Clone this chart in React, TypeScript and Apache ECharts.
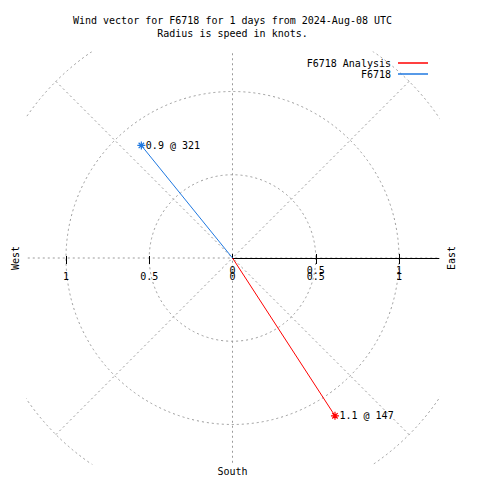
import React, { useEffect, useRef } from 'react';
import * as echarts from 'echarts';

// ---- data ----
const titleLines = ['Wind vector for F6718 for 1 days from 2024-Aug-08 UTC', 'Radius is speed in knots.'];
const seriesNames = ['F6718 Analysis', 'F6718'];
const seriesColors = ['#ff0000', '#1f78e0'];
const speeds = [1.13, 0.87]; // knots
const directions = [147, 321]; // degrees, compass
const ringStep = 0.5;
const ringMax = 1.5;
const spokeStep = 45;
const fullAxisTicks = [-1, -0.5, 0, 0.5, 1];
const fullAxisTickMarks = [-1, -0.5, 0.5, 1];
const radialAxisTicks = [0, 0.5, 1];
const compassWest = 'West';
const compassEast = 'East';
const compassSouth = 'South';

// ---- layout ----
const CX = 232.5;
const CY = 258;
const PX = 166.5; // pixels per knot
const HALF = 1.24; // visible half-extent in knots
const FONT = 'DejaVu Sans Mono';

const ASTERISK = 'path://M5,0L5,10M0,5L10,5M1.6,1.6L8.4,8.4M1.6,8.4L8.4,1.6';

export default function App() {
  const ref = useRef<HTMLDivElement>(null);

  useEffect(() => {
    if (!ref.current) return;
    const chart = echarts.init(ref.current, null, { renderer: 'svg' });

    const gl = CX - HALF * PX;
    const gt = CY - HALF * PX;
    const gs = 2 * HALF * PX;
    const gr = gl + gs;
    const gb = gt + gs;

    const gridLine = { color: '#9a9a9a', width: 1, type: [2, 3] as any };
    const labelFont = { fontFamily: FONT, fontSize: 10, color: '#000' };

    const legendBase = {
      right: 480 - 428,
      padding: 0,
      align: 'right',
      icon: 'rect',
      itemWidth: 30,
      itemHeight: 1.5,
      itemGap: 7,
      textStyle: { ...labelFont, lineHeight: 12, padding: [0, 2, 0, 0] },
      selectedMode: false,
    };

    const option: any = {
      animation: false,
      backgroundColor: '#fff',
      title: {
        text: titleLines.join('\n'),
        left: CX,
        top: 14,
        padding: 0,
        textAlign: 'center',
        textStyle: { fontFamily: FONT, fontSize: 10, fontWeight: 'normal', color: '#000', lineHeight: 13 },
        z: 10,
      },
      legend: seriesNames.map((name, i) => ({
        ...legendBase,
        data: [name],
        top: 57 + i * 11,
        itemStyle: { color: seriesColors[i], borderWidth: 0 },
      })),
      polar: { center: [CX, CY], radius: ringMax * PX },
      angleAxis: {
        type: 'value',
        min: 0,
        max: 360,
        interval: spokeStep,
        startAngle: 90,
        clockwise: true,
        axisLine: { show: false },
        axisTick: { show: false },
        axisLabel: { show: false },
        splitLine: { show: true, lineStyle: gridLine },
      },
      radiusAxis: {
        type: 'value',
        min: 0,
        max: ringMax,
        interval: ringStep,
        axisLine: { show: false },
        axisTick: { show: false },
        axisLabel: { show: false },
        splitLine: { show: true, lineStyle: gridLine },
      },
      grid: [
        { left: gl, top: gt, width: gs, height: CY - gt, containLabel: false },
        { left: CX, top: gt, width: gr - CX, height: CY - gt, containLabel: false },
        { left: gl, top: gt, width: gs, height: CY - gt, containLabel: false },
      ],
      xAxis: [
        {
          type: 'value',
          gridIndex: 0,
          min: -HALF,
          max: HALF,
          position: 'bottom',
          z: 2,
          axisLine: { show: false, onZero: false },
          axisTick: { show: true, inside: false, length: 6, customValues: fullAxisTickMarks, lineStyle: { color: '#000' } },
          axisLabel: {
            show: true,
            margin: 13,
            customValues: fullAxisTicks,
            formatter: (v: number) => String(Math.abs(v)),
            ...labelFont,
          },
          splitLine: { show: false },
        },
        {
          type: 'value',
          gridIndex: 1,
          min: 0,
          max: HALF,
          position: 'bottom',
          z: 3,
          axisLine: { show: true, onZero: false, lineStyle: { color: '#000', width: 1 } },
          axisTick: { show: true, inside: true, length: 4, customValues: radialAxisTicks, lineStyle: { color: '#000' } },
          axisLabel: {
            show: true,
            margin: 7,
            customValues: radialAxisTicks,
            formatter: (v: number) => String(v),
            ...labelFont,
          },
          splitLine: { show: false },
        },
        {
          type: 'value',
          gridIndex: 2,
          min: -HALF,
          max: HALF,
          position: 'bottom',
          z: 2,
          axisLine: { show: false, onZero: false },
          axisTick: { show: true, inside: true, length: 2, customValues: fullAxisTickMarks, lineStyle: { color: '#000' } },
          axisLabel: { show: false },
          splitLine: { show: false },
        },
      ],
      yAxis: [
        { type: 'value', gridIndex: 0, min: 0, max: HALF, show: false, splitLine: { show: false } },
        { type: 'value', gridIndex: 1, min: 0, max: HALF, show: false, splitLine: { show: false } },
        { type: 'value', gridIndex: 2, min: 0, max: HALF, show: false, splitLine: { show: false } },
      ],
      series: seriesNames.map((name, i) => ({
        type: 'line',
        name,
        coordinateSystem: 'polar',
        polarIndex: 0,
        color: seriesColors[i],
        silent: true,
        z: 3,
        symbol: ASTERISK,
        symbolSize: 8,
        showSymbol: true,
        lineStyle: { color: seriesColors[i], width: 1 },
        itemStyle: { color: 'none', borderColor: seriesColors[i], borderWidth: 1.2 },
        label: {
          show: true,
          position: 'right',
          distance: -2,
          formatter: () => `${speeds[i].toFixed(1)} @ ${directions[i]}`,
          ...labelFont,
        },
        data: [
          { value: [0, directions[i]], symbol: 'none', label: { show: false } },
          { value: [speeds[i], directions[i]] },
        ],
      })),
      graphic: [
        { type: 'rect', silent: true, z: 1, shape: { x: 0, y: 0, width: 480, height: gt }, style: { fill: '#fff' } },
        { type: 'rect', silent: true, z: 1, shape: { x: 0, y: gb, width: 480, height: 480 - gb }, style: { fill: '#fff' } },
        { type: 'rect', silent: true, z: 1, shape: { x: 0, y: 0, width: gl, height: 480 }, style: { fill: '#fff' } },
        { type: 'rect', silent: true, z: 1, shape: { x: gr + 0.5, y: 0, width: 480 - gr, height: 480 }, style: { fill: '#fff' } },
        {
          type: 'text', z: 10, x: 15, y: CY, rotation: Math.PI / 2,
          style: { text: compassWest, fontFamily: FONT, fontSize: 10, fill: '#000', align: 'center', verticalAlign: 'middle' },
        },
        {
          type: 'text', z: 10, x: 451, y: CY, rotation: Math.PI / 2,
          style: { text: compassEast, fontFamily: FONT, fontSize: 10, fill: '#000', align: 'center', verticalAlign: 'middle' },
        },
        {
          type: 'text', z: 10, x: CX, y: 471,
          style: { text: compassSouth, fontFamily: FONT, fontSize: 10, fill: '#000', align: 'center', verticalAlign: 'middle' },
        },
      ],
    };

    chart.setOption(option);
    return () => chart.dispose();
  }, []);

  return <div ref={ref} style={{ position: 'fixed', left: 0, top: 0, width: 480, height: 480, background: '#fff' }} />;
}
